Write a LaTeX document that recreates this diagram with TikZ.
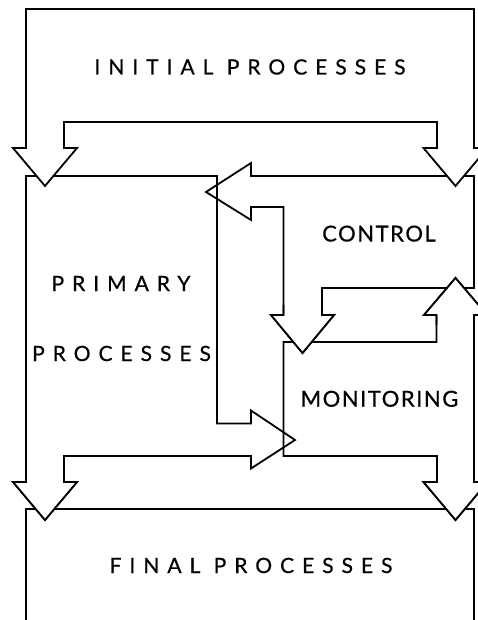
\documentclass[tikz,border=0pt]{standalone}
\usepackage{fontspec}
\setmainfont{Lato}
\newfontfamily\widecaps[LetterSpace=38,FakeBold=0.6]{Lato}
\newfontfamily\labelcaps[LetterSpace=7,FakeBold=0.6]{Lato}

\begin{document}
\begin{tikzpicture}[x=1pt,y=-1pt,
  outline/.style={draw=black, line width=1.8pt, line join=miter},
  headfill/.style={fill=white},
  spacedlabel/.style={font=\widecaps\fontsize{21}{25}\selectfont, anchor=base, inner sep=0pt},
  plainlabel/.style={font=\labelcaps\fontsize{22}{26}\selectfont, anchor=base, inner sep=0pt}]
\useasboundingbox (0,0) rectangle (478,620);

% final processes box, open at the bottom
\draw[outline] (26,620) -- (26,509) -- (474,509) -- (474,620);

% primary processes block with its right-pointing arrow and lower-left arrow
\draw[outline] (26,482) -- (26,176) -- (217,176) -- (217,423.5) -- (251,423.5)
  -- (251,410.5) -- (295,440) -- (251,468.5) -- (251,456) -- (64,456)
  -- (64,482) -- (77,482) -- (45,520) -- (13,482) -- cycle;

% control block with its left-pointing arrow and downward arrow
\draw[outline] (251,176) -- (474,176) -- (474,288) -- (322,288) -- (322,315)
  -- (334,315) -- (302.5,353) -- (271,315) -- (283.5,315) -- (283.5,207)
  -- (251,207) -- (251,220) -- (206,192) -- (251,163) -- cycle;

% monitoring block with its upward arrow and lower-right arrow
\draw[outline] (283.5,342) -- (436.5,342) -- (436.5,315) -- (424,315)
  -- (455.5,278) -- (487,315) -- (474,315) -- (474,482) -- (487.5,482)
  -- (455.5,520) -- (423.5,482) -- (437,482) -- (437,456) -- (283.5,456) -- cycle;

% arrow heads that sit in front of the lines they cross
\fill[headfill] (13,482) -- (45,520) -- (77,482) -- cycle;
\draw[outline] (26,470) -- (26,482) -- (13,482) -- (45,520) -- (77,482) -- (64,482) -- (64,470);
\fill[headfill] (423.5,482) -- (455.5,520) -- (487.5,482) -- cycle;
\draw[outline] (437,470) -- (437,482) -- (423.5,482) -- (455.5,520) -- (487.5,482) -- (474,482) -- (474,470);
\fill[headfill] (271,315) -- (302.5,353) -- (334,315) -- cycle;
\draw[outline] (283.5,305) -- (283.5,315) -- (271,315) -- (302.5,353) -- (334,315) -- (322,315) -- (322,305);
\fill[headfill] (424,315) -- (455.5,278) -- (487,315) -- cycle;
\draw[outline] (436.5,325) -- (436.5,315) -- (424,315) -- (455.5,278) -- (487,315) -- (474,315) -- (474,325);

% initial processes arch with its two downward arrows
\draw[outline, fill=white] (26,148) -- (26,9) -- (474,9) -- (474,148) -- (487.5,148)
  -- (455.5,186) -- (423.5,148) -- (437,148) -- (437,122) -- (64,122) -- (64,148)
  -- (77,148) -- (45,186) -- (13,148) -- cycle;

% labels
\node[spacedlabel] (initial) at (250,74.5) {INITIAL PROCESSES\hspace{-0.38em}};
\node[spacedlabel] (primary) at (121,291) {PRIMARY\hspace{-0.38em}};
\node[spacedlabel] (processes) at (121.5,361) {PROCESSES\hspace{-0.38em}};
\node[plainlabel] (control) at (379,241.5) {CONTROL\hspace{-0.07em}};
\node[plainlabel] (monitoring) at (379.5,406.7) {MONITORING\hspace{-0.07em}};
\node[spacedlabel] (final) at (251,573) {FINAL PROCESSES\hspace{-0.38em}};
\end{tikzpicture}
\end{document}
